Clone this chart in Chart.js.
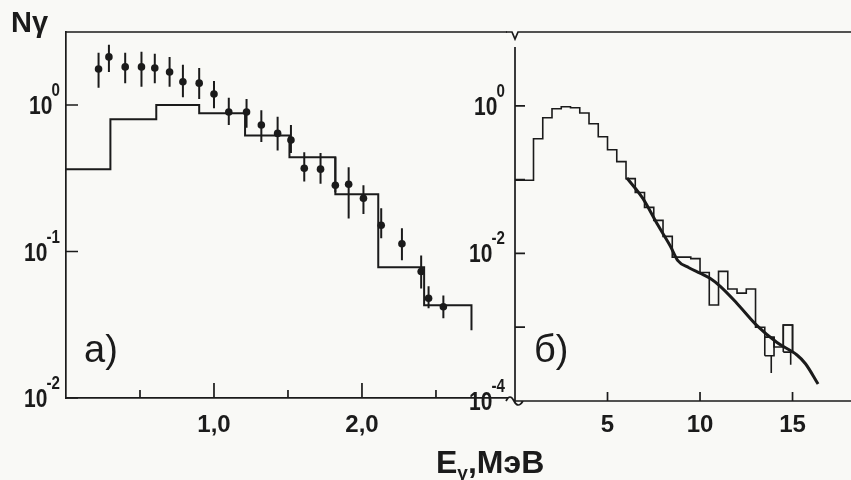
<!DOCTYPE html>
<html>
<head>
<meta charset="utf-8">
<script src="https://cdn.jsdelivr.net/npm/chart.js@4.4.1/dist/chart.umd.min.js"></script>
<style>
  body { margin: 0; background: #f9f9f6; }
  #wrap { position: relative; width: 851px; height: 480px; overflow: hidden; }
  canvas { position: absolute; top: 0; }
  #left { left: 0; }
  #right { left: 440px; }
  .lbl { position: absolute; line-height: 1; color: #1b1b1b; white-space: nowrap;
         font-family: 'Liberation Sans', 'DejaVu Sans', sans-serif; }
</style>
</head>
<body>
<div id="wrap">
  <canvas id="left" width="520" height="480"></canvas>
  <canvas id="right" width="411" height="480"></canvas>
  <div class="lbl" style="left:11px;top:8px;font-size:29px;font-weight:bold">Nγ</div>
  <div class="lbl" style="left:84px;top:330px;font-size:38px">а)</div>
  <div class="lbl" style="left:534px;top:330px;font-size:38px">б)</div>
  <div class="lbl" style="left:436px;top:446px;font-size:32px;font-weight:bold">E<span style="font-size:19px;vertical-align:-6px">γ</span>,МэВ</div>
</div>
<script>
// panel а): measured points with error bars (E in MeV)
const ptsE  = [0.22, 0.29, 0.40, 0.51, 0.60, 0.70, 0.79, 0.90, 1.00, 1.10, 1.22, 1.32,
               1.43, 1.52, 1.61, 1.72, 1.82, 1.91, 2.01, 2.13, 2.27, 2.40, 2.45, 2.55];
const ptsN  = [1.76, 2.13, 1.82, 1.82, 1.79, 1.68, 1.44, 1.41, 1.19, 0.895, 0.895, 0.73,
               0.64, 0.576, 0.37, 0.365, 0.283, 0.288, 0.231, 0.151, 0.113, 0.073, 0.048, 0.042];
const ptsLo = [1.31, 1.68, 1.41, 1.33, 1.41, 1.33, 1.13, 1.10, 0.95, 0.73, 0.70, 0.56,
               0.49, 0.47, 0.30, 0.29, 0.254, 0.168, 0.18, 0.123, 0.087, 0.056, 0.041, 0.035];
const ptsHi = [2.27, 2.58, 2.27, 2.31, 2.24, 2.13, 1.88, 1.79, 1.46, 1.12, 1.10, 0.92,
               0.83, 0.73, 0.476, 0.47, 0.44, 0.376, 0.283, 0.197, 0.144, 0.094, 0.058, 0.05];

// panel а): calculated histogram
const histAEdges = [0, 0.30, 0.61, 0.90, 1.21, 1.51, 1.82, 2.11, 2.42, 2.74];
const histAVals  = [0.365, 0.80, 1.0, 0.88, 0.62, 0.44, 0.246, 0.078, 0.043];
const histAEnd   = 0.029;

// panel б): histogram
const histBEdges = [0, 1, 1.5, 2, 2.5, 3, 3.5, 4, 4.5, 5, 5.5, 6, 6.5, 7, 7.5, 8,
                    8.5, 9, 9.5, 10, 10.5, 11, 11.5, 12, 12.5, 13, 13.5, 14, 14.5, 15];
const histBVals  = [0.098, 0.358, 0.69, 0.91, 0.97, 0.94, 0.80, 0.57, 0.38, 0.254, 0.175,
                    0.103, 0.067, 0.042, 0.028, 0.017, 0.0089, 0.0089, 0.0085, 0.0055, 0.0020,
                    0.0057, 0.0033, 0.0029, 0.0033, 0.0010, 0.00073, 0.00054, 0.00107];
const histBEnd   = 0.00046;

// panel б): error boxes and bars at high energy
const boxL  = [13.5, 14.5];
const boxR  = [14.0, 15.0];
const boxLo = [0.00041, 0.00046];
const boxHi = [0.00073, 0.00107];
const errE  = [13.85, 14.9];
const errLo = [0.00024, 0.00031];
const errHi = [0.00041, 0.00046];

// panel б): smooth curve
const curveE = [6.05, 6.9, 7.73, 8.4, 8.8, 9.4, 10.0, 10.54, 11.08, 12.0, 13.08, 14.16, 15.24, 15.7, 16.38];
const curveN = [0.105, 0.056, 0.024, 0.0125, 0.0080, 0.0064, 0.0054, 0.0046, 0.0036, 0.0021,
                0.00105, 0.00062, 0.00042, 0.00032, 0.00017];

// ticks (y labels are 10 to the power in *YExp)
const aXTicks  = [0.5, 1.0, 1.5, 2.0, 2.5];
const aXLabels = ['', '1,0', '', '2,0', ''];
const aYTicks  = [0.01, 0.1, 1];
const aYExp    = ['-2', '-1', '0'];
const bXTicks  = [5, 10, 15];
const bXLabels = ['5', '10', '15'];
const bYTicks  = [0.0001, 0.001, 0.01, 0.1, 1];
const bYExp    = ['-4', '', '-2', '', '0'];

const ink = '#1b1b1b';
const fam = "'Liberation Sans', 'DejaVu Sans', sans-serif";
const tickFont = { family: fam, size: 24, weight: 'bold' };

function stepPoints(edges, vals, endVal) {
  const pts = vals.map((v, i) => ({ x: edges[i], y: v }));
  const last = edges[edges.length - 1];
  pts.push({ x: last, y: vals[vals.length - 1] });
  pts.push({ x: last, y: endVal });
  return pts;
}
function barPoints(xs, lo, hi) {
  const pts = [];
  xs.forEach((x, i) => pts.push({ x: x, y: lo[i] }, { x: x, y: hi[i] }, { x: x, y: null }));
  return pts;
}
function boxPoints(l, r, lo, hi) {
  const pts = [];
  l.forEach((x, i) => pts.push({ x: x, y: lo[i] }, { x: x, y: hi[i] }, { x: r[i], y: hi[i] },
                               { x: r[i], y: lo[i] }, { x: x, y: lo[i] }, { x: x, y: null }));
  return pts;
}

// frame, inward tick marks, 10^n labels and axis breaks
const frame = {
  id: 'frame',
  afterDraw(chart, args, o) {
    const { ctx, chartArea: a, scales: { x, y } } = chart;
    ctx.save();
    ctx.strokeStyle = ink;
    ctx.lineWidth = 1.7;
    ctx.beginPath();
    y.ticks.forEach(t => {
      const py = y.getPixelForValue(t.value);
      ctx.moveTo(a.left, py); ctx.lineTo(a.left + o.yLen, py);
    });
    x.ticks.forEach(t => {
      const px = x.getPixelForValue(t.value);
      const len = o.xMajor.includes(t.value) ? o.xLong : o.xLen;
      ctx.moveTo(px, a.bottom); ctx.lineTo(px, a.bottom - len);
    });
    if (o.notch) {
      ctx.moveTo(a.left - 9, a.top);
      ctx.lineTo(a.left - 3, a.top);
      ctx.lineTo(a.left, a.top + 7);
      ctx.lineTo(a.left + 3, a.top);
      ctx.lineTo(a.right, a.top);
      ctx.moveTo(a.left, a.top + 15);
      ctx.lineTo(a.left, a.bottom);
      ctx.moveTo(a.left - 9, a.bottom);
      ctx.quadraticCurveTo(a.left - 5, a.bottom - 8, a.left - 1, a.bottom);
      ctx.quadraticCurveTo(a.left + 3, a.bottom + 8, a.left + 8, a.bottom);
      ctx.lineTo(a.right, a.bottom);
    } else {
      ctx.moveTo(a.left, a.top);
      ctx.lineTo(a.right, a.top);
    }
    ctx.stroke();

    // y labels: "10" with raised exponent
    ctx.fillStyle = ink;
    ctx.textAlign = 'right';
    ctx.textBaseline = 'alphabetic';
    y.ticks.forEach((t, i) => {
      const ex = o.yExp[i];
      if (!ex) return;
      const py = y.getPixelForValue(t.value);
      ctx.save();
      ctx.translate(a.left - o.yGap, py);
      ctx.scale(0.84, 1);
      ctx.font = 'bold 18px ' + fam;
      const ew = ctx.measureText(ex).width;
      ctx.fillText(ex, 0, -9);
      ctx.font = 'bold 25px ' + fam;
      ctx.fillText('10', -ew + 1, 9);
      ctx.restore();
    });
    ctx.restore();
  }
};

Chart.defaults.color = ink;

function baseOptions(pad, yWidth, xHeight, xr, yr, xt, xl, yt, xPad, frameOpts, showBorder) {
  return {
    responsive: false,
    animation: false,
    layout: { padding: pad },
    plugins: { legend: { display: false }, tooltip: { enabled: false }, frame: frameOpts },
    elements: { line: { borderColor: ink, borderCapStyle: 'butt' } },
    scales: {
      x: {
        type: 'linear', min: xr[0], max: xr[1],
        grid: { display: false },
        border: { display: showBorder, color: ink, width: 1.7 },
        afterBuildTicks: s => { s.ticks = xt.map(v => ({ value: v })); },
        afterFit: s => { s.height = xHeight; },
        ticks: { callback: v => xl[xt.indexOf(v)], autoSkip: false, maxRotation: 0, padding: xPad, font: tickFont, color: ink }
      },
      y: {
        type: 'logarithmic', min: yr[0], max: yr[1],
        grid: { display: false },
        border: { display: showBorder, color: ink, width: 1.7 },
        afterBuildTicks: s => { s.ticks = yt.map(v => ({ value: v })); },
        afterFit: s => { s.width = yWidth; },
        ticks: { display: false }
      }
    }
  };
}

new Chart(document.getElementById('left'), {
  type: 'line',
  data: {
    datasets: [
      { data: stepPoints(histAEdges, histAVals, histAEnd), stepped: 'before', borderWidth: 2, pointRadius: 0 },
      { data: barPoints(ptsE, ptsLo, ptsHi), borderWidth: 2, pointRadius: 0, spanGaps: false },
      { data: ptsE.map((e, i) => ({ x: e, y: ptsN[i] })), showLine: false, pointRadius: 3.8,
        pointBackgroundColor: ink, pointBorderWidth: 0 }
    ]
  },
  options: baseOptions({ top: 32, right: 13, left: 0, bottom: 0 }, 66, 82, [0, 2.98], [0.01, 3.15],
    aXTicks, aXLabels, aYTicks, 5,
    { yLen: 12, xLen: 8, xLong: 15, xMajor: [1.0, 2.0], notch: false, yExp: aYExp, yGap: 6 }, true),
  plugins: [frame]
});

new Chart(document.getElementById('right'), {
  type: 'line',
  data: {
    datasets: [
      { data: stepPoints(histBEdges, histBVals, histBEnd), stepped: 'before', borderWidth: 1.6, pointRadius: 0 },
      { data: boxPoints(boxL, boxR, boxLo, boxHi), borderWidth: 1.6, pointRadius: 0, spanGaps: false },
      { data: barPoints(errE, errLo, errHi), borderWidth: 1.6, pointRadius: 0, spanGaps: false },
      { data: curveE.map((e, i) => ({ x: e, y: curveN[i] })), borderWidth: 3, pointRadius: 0,
        cubicInterpolationMode: 'monotone' }
    ]
  },
  options: baseOptions({ top: 32, right: 0, left: 0, bottom: 0 }, 75, 79, [0, 18.16], [0.0001, 10],
    bXTicks, bXLabels, bYTicks, 2,
    { yLen: 10, xLen: 9, xLong: 9, xMajor: [], notch: true, yExp: bYExp, yGap: 10 }, false),
  plugins: [frame]
});
</script>
</body>
</html>
